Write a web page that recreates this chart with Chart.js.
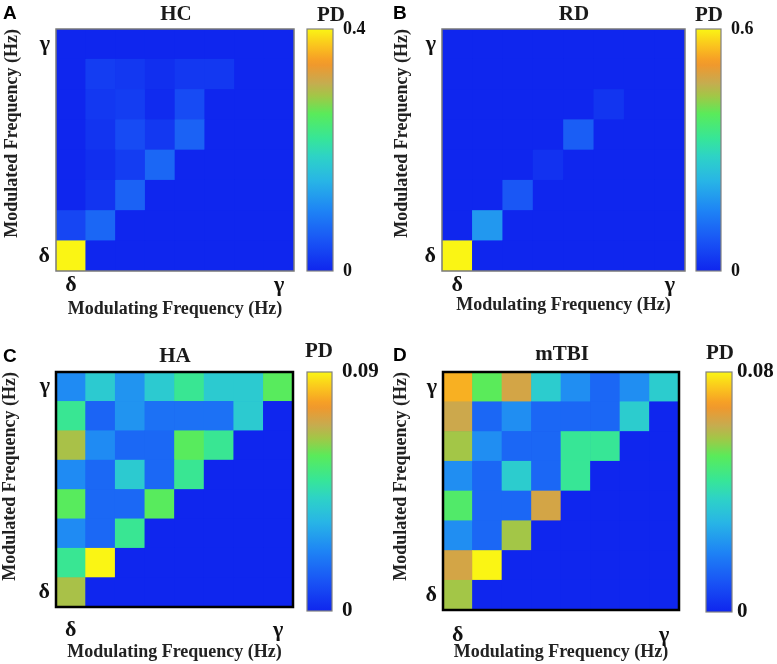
<!DOCTYPE html>
<html><head><meta charset="utf-8">
<script src="https://cdn.jsdelivr.net/npm/chart.js@4.4.1/dist/chart.umd.min.js"></script>
<style>
html,body{margin:0;padding:0;background:#fff;width:777px;height:664px;overflow:hidden;position:relative;}
canvas{position:absolute;}
.t{position:absolute;font-family:'Liberation Serif','Times New Roman',serif;font-weight:bold;color:#1a1a1a;white-space:nowrap;transform:translate(-50%,-50%);line-height:1;}
.l{position:absolute;font-family:'Liberation Sans',Arial,sans-serif;font-weight:bold;color:#000;font-size:19px;line-height:1;}
</style></head><body>
<script>
// ---------- data ----------
const colLabels = ['δ','','','','','','','γ'];
const rowTickLabels = ['δ','γ'];
// rows listed from top (γ) to bottom (δ)
const hcValues = [
  [0,0,0,0,0,0,0,0],
  [0,0.025,0.02,0.01,0.02,0.02,0,0],
  [0,0.02,0.025,0.005,0.04,0,0,0],
  [0,0.015,0.04,0.02,0.065,0,0,0],
  [0,0.01,0.025,0.07,0,0,0,0],
  [0,0.015,0.065,0,0,0,0,0],
  [0.035,0.07,0,0,0,0,0,0],
  [0.4,0,0,0,0,0,0,0]
];
const rdValues = [
  [0,0,0,0,0,0,0,0],
  [0,0,0,0,0,0,0,0],
  [0,0,0,0,0,0.025,0,0],
  [0,0,0,0,0.09,0,0,0],
  [0,0,0,0.02,0,0,0,0],
  [0,0,0.08,0,0,0,0,0],
  [0,0.18,0,0,0,0,0,0],
  [0.6,0,0,0,0,0,0,0]
];
const haValues = [
  [0.024,0.04,0.026,0.04,0.05,0.04,0.04,0.058],
  [0.05,0.015,0.026,0.018,0.018,0.018,0.04,0],
  [0.066,0.024,0.016,0.016,0.058,0.05,0,0],
  [0.024,0.016,0.04,0.016,0.05,0,0,0],
  [0.058,0.016,0.016,0.058,0,0,0,0],
  [0.024,0.016,0.05,0,0,0,0,0],
  [0.05,0.09,0,0,0,0,0,0],
  [0.066,0,0,0,0,0,0,0]
];
const mtbiValues = [
  [0.072,0.052,0.064,0.036,0.022,0.014,0.022,0.036],
  [0.063,0.014,0.022,0.014,0.014,0.014,0.036,0],
  [0.058,0.022,0.014,0.014,0.044,0.044,0,0],
  [0.022,0.014,0.036,0.014,0.044,0,0,0],
  [0.05,0.014,0.014,0.064,0,0,0,0],
  [0.022,0.014,0.058,0,0,0,0,0],
  [0.064,0.08,0,0,0,0,0,0],
  [0.058,0,0,0,0,0,0,0]
];
const panelTitles = ['HC','RD','HA','mTBI'];
const panelLetters = ['A','B','C','D'];
const colorbarMax = [0.4, 0.6, 0.09, 0.08];
const colorbarTickLabels = [['0','0.4'],['0','0.6'],['0','0.09'],['0','0.08']];
const xTitle = 'Modulating Frequency (Hz)';
const yTitle = 'Modulated Frequency (Hz)';
const barTitle = 'PD';

// ---------- colormap (style) ----------
const cmapStops = [
  [0.00,[15,38,238]],[0.12,[25,82,245]],[0.25,[30,132,245]],[0.37,[40,180,230]],
  [0.47,[45,210,200]],[0.55,[55,230,150]],[0.65,[90,235,90]],[0.72,[160,200,70]],
  [0.78,[200,170,80]],[0.86,[245,150,40]],[0.93,[250,195,30]],[1.00,[250,245,20]]
];
function cmap(t){
  t = Math.max(0, Math.min(1, t));
  for (let i=1;i<cmapStops.length;i++){
    const [t1,c1]=cmapStops[i], [t0,c0]=cmapStops[i-1];
    if (t<=t1){ const f=(t-t0)/(t1-t0); const c=c0.map((v,k)=>Math.round(v+(c1[k]-v)*f)); return `rgb(${c[0]},${c[1]},${c[2]})`; }
  }
  return 'rgb(250,245,20)';
}

// ---------- layout (style) ----------
const layouts = [
  {hm:{left:0,top:0,w:300,h:320,yTitlePad:2,xTitlePad:0,xTickPad:1,xH:49}, cb:{left:303,top:0,w:87,h:300,areaW:26,pad:10}, frame:{c:'#7a7a7a',w:1.5},
   title:[176,13,21], pd:[331,14,21], letter:[3,3], tickFont:18},
  {hm:{left:386,top:0,w:305,h:320,yTitlePad:6,xTitlePad:4,xTickPad:1,xH:49}, cb:{left:692,top:0,w:85,h:300,areaW:25,pad:10}, frame:{c:'#7a7a7a',w:1.5},
   title:[574,13,21], pd:[709,14,21], letter:[393,3], tickFont:18},
  {hm:{left:0,top:343,w:299,h:321,yTitlePad:0,xTitlePad:1,xTickPad:10,xH:57}, cb:{left:303,top:343,w:87,h:300,areaW:25,pad:10}, frame:{c:'#000',w:2.5},
   title:[175,355,21], pd:[319,350,21], letter:[3,346], tickFont:21},
  {hm:{left:387,top:343,w:298,h:321,yTitlePad:4,xTitlePad:1,xTickPad:12,xH:54}, cb:{left:702,top:343,w:75,h:300,areaW:26,pad:5}, frame:{c:'#000',w:2.5},
   title:[562,353,21], pd:[720,352,21], letter:[393,345], tickFont:21}
];
const cbAreaBottomPad = [29,29,32,31];
const allValues = [hcValues, rdValues, haValues, mtbiValues];

const frame = {
  id:'frame',
  beforeDatasetsDraw(chart, args, o){
    if (o.fill){ const a=chart.chartArea; chart.ctx.save(); chart.ctx.fillStyle=o.fill; chart.ctx.fillRect(a.left,a.top,a.right-a.left,a.bottom-a.top); chart.ctx.restore(); }
  },
  afterDraw(chart, args, o){
    const a=chart.chartArea, ctx=chart.ctx; ctx.save(); ctx.strokeStyle=o.color; ctx.lineWidth=o.width;
    ctx.strokeRect(a.left,a.top,a.right-a.left,a.bottom-a.top); ctx.restore();
  }
};

const serif = "'Liberation Serif','Times New Roman',serif";

function addText(cls, txt, x, y, size){
  const d=document.createElement('div'); d.className=cls; d.textContent=txt;
  d.style.left=x+'px'; d.style.top=y+'px'; if(size) d.style.fontSize=size+'px';
  document.body.appendChild(d);
}
function makeCanvas(l,t,w,h){
  const c=document.createElement('canvas'); c.width=w; c.height=h;
  c.style.left=l+'px'; c.style.top=t+'px'; c.style.width=w+'px'; c.style.height=h+'px';
  document.body.appendChild(c); return c;
}

allValues.forEach((vals, p) => {
  const L = layouts[p], max = colorbarMax[p];
  // heatmap: one floating-bar dataset per row
  const datasets = [];
  for (let r=0;r<8;r++){
    const rowVals = vals[7-r];
    datasets.push({
      data: colLabels.map(()=>[r, r+1]),
      backgroundColor: rowVals.map(v=>cmap(v/max)),
      borderWidth:0, grouped:false, barPercentage:1, categoryPercentage:1
    });
  }
  const hm = L.hm;
  new Chart(makeCanvas(hm.left,hm.top,hm.w,hm.h), {
    type:'bar',
    data:{labels:colLabels, datasets},
    options:{
      responsive:false, animation:false, events:[],
      layout:{padding:{top:29,right:6,left:0,bottom:0}},
      plugins:{legend:{display:false},tooltip:{enabled:false},
        frame:{color:L.frame.c,width:L.frame.w,fill:cmap(0)}},
      scales:{
        x:{grid:{display:false,drawTicks:false},border:{display:false},
           ticks:{autoSkip:false,maxRotation:0,padding:hm.xTickPad,color:'#111',font:{family:serif,weight:'bold',size:22}},
           title:{display:true,text:xTitle,color:'#222',font:{family:serif,weight:'bold',size:18},padding:{top:0,bottom:hm.xTitlePad}},
           afterFit(s){ s.height = hm.xH; }},
        y:{min:0,max:8,grid:{display:false,drawTicks:false},border:{display:false},
           afterBuildTicks(s){ s.ticks=[{value:0.5},{value:7.5}]; },
           ticks:{padding:6,color:'#111',font:{family:serif,weight:'bold',size:22},
             callback:(v)=> v<4 ? rowTickLabels[0] : rowTickLabels[1]},
           title:{display:true,align:'end',text:yTitle,color:'#222',font:{family:serif,weight:'bold',size:18},padding:{top:hm.yTitlePad,bottom:0}},
           afterFit(s){ s.width = 56; }}
      }
    },
    plugins:[frame]
  });
  // colorbar
  const cb = L.cb;
  new Chart(makeCanvas(cb.left,cb.top,cb.w,cb.h), {
    type:'bar',
    data:{labels:[barTitle], datasets:[{
      data:[[0,max]], borderWidth:0, barPercentage:1, categoryPercentage:1,
      backgroundColor:(ctx)=>{
        const a=ctx.chart.chartArea; if(!a) return cmap(0);
        const g=ctx.chart.ctx.createLinearGradient(0,a.bottom,0,a.top);
        for (let i=0;i<=40;i++) g.addColorStop(i/40, cmap(i/40));
        return g;
      }
    }]},
    options:{
      responsive:false, animation:false, events:[],
      layout:{padding:{top:29,left:4,right:0,bottom:cbAreaBottomPad[p]}},
      plugins:{legend:{display:false},tooltip:{enabled:false},frame:{color:'#808080',width:1.2}},
      scales:{
        x:{display:false},
        y:{position:'right',min:0,max:max,grid:{display:false,drawTicks:false},border:{display:false},
           afterBuildTicks(s){ s.ticks=[{value:0},{value:max}]; },
           ticks:{padding:cb.pad,color:'#111',font:{family:serif,weight:'bold',size:L.tickFont},
             callback:(v)=> v===0 ? colorbarTickLabels[p][0] : colorbarTickLabels[p][1]},
           afterFit(s){ s.width = cb.w - 4 - cb.areaW; }}
      }
    },
    plugins:[frame]
  });
  addText('t', panelTitles[p], L.title[0], L.title[1], L.title[2]);
  addText('t', barTitle, L.pd[0], L.pd[1], L.pd[2]);
  addText('l', panelLetters[p], L.letter[0], L.letter[1]);
});
</script>
</body></html>
